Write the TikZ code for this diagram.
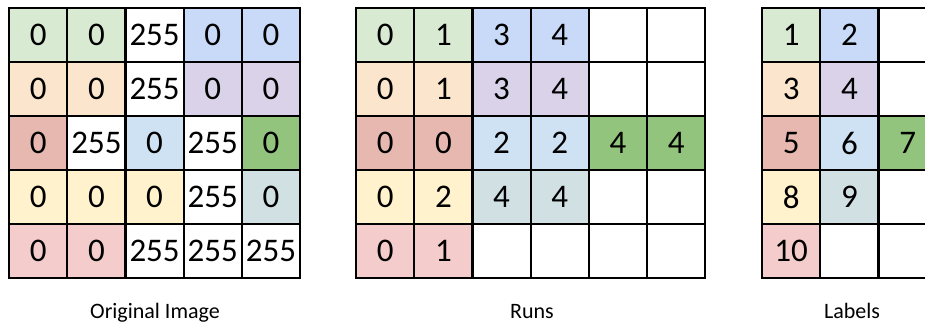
\documentclass[tikz,border=0pt]{standalone}
\usepackage{fontspec}
\setmainfont{Carlito}
\definecolor{cGreenL}{HTML}{D9EAD3}
\definecolor{cBlue}{HTML}{C9DAF8}
\definecolor{cPeach}{HTML}{FCE5CD}
\definecolor{cLav}{HTML}{D9D2E9}
\definecolor{cRed}{HTML}{E6B8AF}
\definecolor{cBlueL}{HTML}{CFE2F3}
\definecolor{cGreen}{HTML}{93C47D}
\definecolor{cYel}{HTML}{FFF2CC}
\definecolor{cGrey}{HTML}{D0E0E3}
\definecolor{cPink}{HTML}{F4CCCC}
\definecolor{cW}{HTML}{FFFFFF}
\begin{document}
\begin{tikzpicture}[x=1pt,y=-1pt,
  cell/.style={draw=black, line width=2.2pt, minimum width=58.2pt, minimum height=54pt,
    inner sep=0pt, font=\fontsize{33}{33}\selectfont, anchor=north west},
  caption/.style={font=\fontsize{22}{22}\selectfont, anchor=base}]
\useasboundingbox (0,0) rectangle (925,322);
\clip (0,0) rectangle (925,322);
% Original image
\foreach \row [count=\r from 0] in {
  {cGreenL/0,cGreenL/0,cW/255,cBlue/0,cBlue/0},
  {cPeach/0,cPeach/0,cW/255,cLav/0,cLav/0},
  {cRed/0,cW/255,cBlueL/0,cW/255,cGreen/0},
  {cYel/0,cYel/0,cYel/0,cW/255,cGrey/0},
  {cPink/0,cPink/0,cW/255,cW/255,cW/255}}{
  \foreach \col/\val [count=\c from 0] in \row {
    \node[cell, fill=\col] (o-\r-\c) at (8+58.2*\c, 7+54*\r) {\val};
  }
}
% Runs
\foreach \row [count=\r from 0] in {
  {cGreenL/0,cGreenL/1,cBlue/3,cBlue/4,cW/,cW/},
  {cPeach/0,cPeach/1,cLav/3,cLav/4,cW/,cW/},
  {cRed/0,cRed/0,cBlueL/2,cBlueL/2,cGreen/4,cGreen/4},
  {cYel/0,cYel/2,cGrey/4,cGrey/4,cW/,cW/},
  {cPink/0,cPink/1,cW/,cW/,cW/,cW/}}{
  \foreach \col/\val [count=\c from 0] in \row {
    \node[cell, fill=\col] (r-\r-\c) at (355+58.2*\c, 7+54*\r) {\val};
  }
}
% Labels
\foreach \row [count=\r from 0] in {
  {cGreenL/1,cBlue/2,cW/},
  {cPeach/3,cLav/4,cW/},
  {cRed/5,cBlueL/6,cGreen/7},
  {cYel/8,cGrey/9,cW/},
  {cPink/10,cW/,cW/}}{
  \foreach \col/\val [count=\c from 0] in \row {
    \node[cell, fill=\col] (l-\r-\c) at (761+58.2*\c, 7+54*\r) {\val};
  }
}
\node[caption] (capO) at (155,318) {Original Image};
\node[caption] (capR) at (532,318) {Runs};
\node[caption] (capL) at (852,318) {Labels};
\end{tikzpicture}
\end{document}
